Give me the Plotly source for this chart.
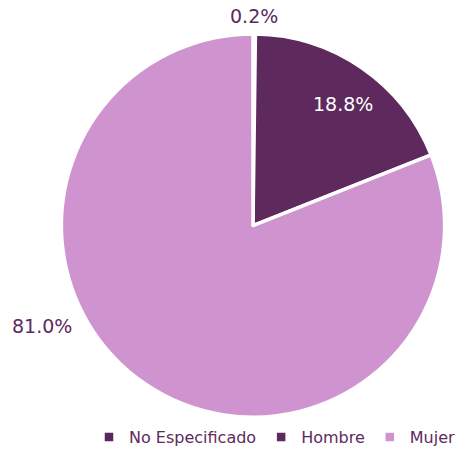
import plotly.graph_objects as go

categories = ["No Especificado", "Hombre", "Mujer"]
values = [0.2, 18.8, 81.0]
colors = ["#5b275c", "#5e2a5e", "#cf94d0"]

labels_txt = [f"{v:.1f}%" for v in values]

W, H = 461, 454

fig = go.Figure()
fig.add_trace(go.Pie(
    labels=categories,
    values=values,
    sort=False,
    direction="clockwise",
    rotation=0,
    textinfo="none",
    marker=dict(colors=colors, line=dict(color="#ffffff", width=3.5)),
    domain=dict(x=[57/W, 449/W], y=[1-425.6/H, 1-34.6/H]),
    hoverinfo="label+percent",
    showlegend=True,
))

label_font_out = dict(color="#5e2a5e", size=19, family="DejaVu Sans")
label_font_in = dict(color="#ffffff", size=19, family="DejaVu Sans")
# label anchors (paper fractions)
label_pos = [(253.5/W, 1-16/H), (342.5/W, 1-106/H), (42/W, 1-333/H)]
for i, txt in enumerate(labels_txt):
    fig.add_annotation(
        text=txt, x=label_pos[i][0], y=label_pos[i][1],
        xref="paper", yref="paper", xanchor="center", yanchor="middle",
        showarrow=False,
        font=label_font_in if i == 1 else label_font_out,
    )

fig.update_layout(
    width=W, height=H,
    margin=dict(l=0, r=0, t=0, b=0),
    paper_bgcolor="#ffffff",
    plot_bgcolor="#ffffff",
    legend=dict(
        orientation="h", x=1.0, xanchor="right", y=1-446/H, yanchor="middle",
        font=dict(color="#5e2a5e", size=16, family="DejaVu Sans"),
        itemwidth=30,
    ),
)

fig.write_html("out.html", config={"displayModeBar": False},
               post_script="document.body.style.margin='0';")
